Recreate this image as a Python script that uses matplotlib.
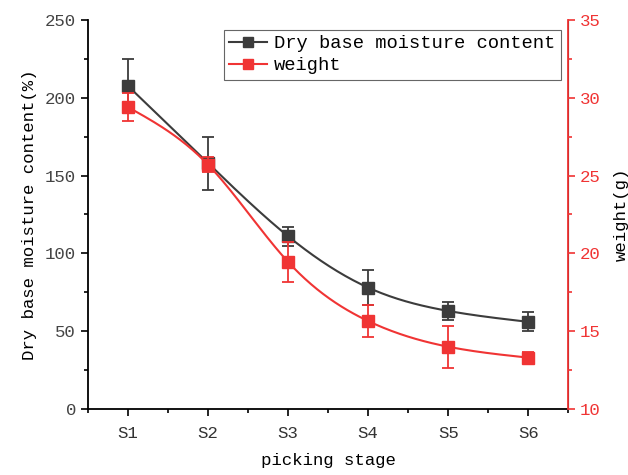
import numpy as np
import matplotlib.pyplot as plt
from matplotlib.ticker import MultipleLocator

stages = ['S1', 'S2', 'S3', 'S4', 'S5', 'S6']
moisture = [207.6, 158.0, 111.0, 78.0, 63.0, 56.0]
moisture_err = [17.0, 17.0, 6.0, 11.0, 6.0, 6.0]
weight = [29.4, 25.7, 19.45, 15.65, 14.0, 13.3]
weight_err = [0.9, 0.5, 1.3, 1.0, 1.35, 0.35]

black = '#3c3c3c'
red = '#f03434'


def smooth(x, y, n=200):
    # natural cubic spline through the points, for the curved connecting line
    x = np.asarray(x, float)
    y = np.asarray(y, float)
    k = len(x)
    h = np.diff(x)
    A = np.zeros((k, k))
    b = np.zeros(k)
    A[0, 0] = A[-1, -1] = 1
    for i in range(1, k - 1):
        A[i, i - 1] = h[i - 1]
        A[i, i] = 2 * (h[i - 1] + h[i])
        A[i, i + 1] = h[i]
        b[i] = 3 * ((y[i + 1] - y[i]) / h[i] - (y[i] - y[i - 1]) / h[i - 1])
    c = np.linalg.solve(A, b)
    xs = np.linspace(x[0], x[-1], n)
    idx = np.clip(np.searchsorted(x, xs) - 1, 0, k - 2)
    dx = xs - x[idx]
    hi = h[idx]
    bb = (y[idx + 1] - y[idx]) / hi - hi * (2 * c[idx] + c[idx + 1]) / 3
    dd = (c[idx + 1] - c[idx]) / (3 * hi)
    ys = y[idx] + bb * dx + c[idx] * dx ** 2 + dd * dx ** 3
    return xs, ys


plt.rcParams['font.family'] = ['Liberation Mono', 'DejaVu Sans']
plt.rcParams['font.size'] = 12.5

fig = plt.figure(figsize=(6.28, 4.75), dpi=100)
ax = fig.add_axes([0.140, 0.139, 0.765, 0.819])
ax2 = ax.twinx()

x = np.arange(1, len(stages) + 1)

xs, ys = smooth(x, moisture)
ax.plot(xs, ys, color=black, lw=1.5, zorder=2)
ax.errorbar(x, moisture, yerr=moisture_err, fmt='none', ecolor=black,
            elinewidth=1.3, capsize=4, capthick=1.3, zorder=3)
ax.plot(x, moisture, 's', color=black, ms=9, zorder=4)

xs, ys = smooth(x, weight)
ax2.plot(xs, ys, color=red, lw=1.5, zorder=2)
ax2.errorbar(x, weight, yerr=weight_err, fmt='none', ecolor=red,
             elinewidth=1.3, capsize=4, capthick=1.3, zorder=3)
ax2.plot(x, weight, 's', color=red, ms=9, zorder=4)

ax.set_xlim(0.5, 6.5)
ax.set_ylim(0, 250)
ax2.set_ylim(10, 35)
ax.set_xticks(x)
ax.set_xticklabels(stages)
ax.xaxis.set_minor_locator(MultipleLocator(0.5))
ax.yaxis.set_major_locator(MultipleLocator(50))
ax.yaxis.set_minor_locator(MultipleLocator(25))
ax2.yaxis.set_major_locator(MultipleLocator(5))
ax2.yaxis.set_minor_locator(MultipleLocator(2.5))

ax.set_xlabel('picking stage', labelpad=9)
ax.set_ylabel('Dry base moisture content(%)', labelpad=6)
ax2.set_ylabel('weight(g)', labelpad=9)

for a in (ax, ax2):
    a.spines['top'].set_visible(False)
    a.tick_params(which='major', direction='out', length=5, width=1.2)
    a.tick_params(which='minor', direction='out', length=3, width=1.2)
ax.tick_params(axis='x', pad=7)
ax.spines['left'].set_linewidth(1.3)
ax.spines['bottom'].set_linewidth(1.3)
ax2.spines['left'].set_visible(False)
ax2.spines['bottom'].set_visible(False)
ax2.spines['right'].set_color(red)
ax2.spines['right'].set_linewidth(1.3)
ax2.tick_params(axis='y', which='both', colors=red, labelcolor=red)
ax.tick_params(axis='y', labelcolor='#444444')
ax.tick_params(axis='x', labelcolor='#333333')

# legend handles: line with square marker
h1, = ax.plot([], [], '-s', color=black, ms=7, lw=1.5)
h2, = ax.plot([], [], '-s', color=red, ms=7, lw=1.5)
leg = ax.legend([h1, h2], ['Dry base moisture content', 'weight'],
                loc='upper right', bbox_to_anchor=(0.985, 0.975),
                fancybox=False, edgecolor='#666666', framealpha=1,
                prop={'size': 13.5},
                handlelength=2.0, handletextpad=0.4, borderpad=0.3,
                labelspacing=0.25, borderaxespad=0)
leg.get_frame().set_linewidth(0.8)

fig.savefig('out.png', dpi=100)
